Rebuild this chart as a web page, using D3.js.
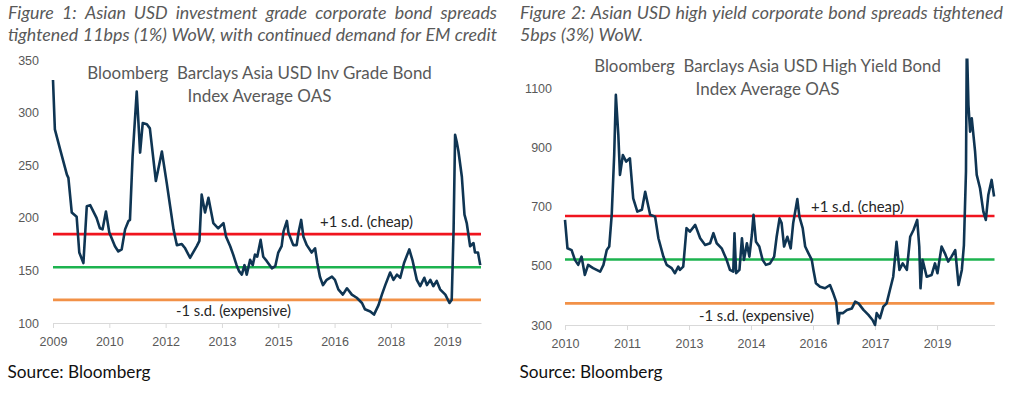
<!DOCTYPE html>
<html>
<head>
<meta charset="utf-8">
<script src="https://cdn.jsdelivr.net/npm/d3@7"></script>
<style>
  body { margin: 0; background: #fff; }
  svg { display: block; font-family: Lato, "Open Sans", sans-serif; }
  text { white-space: pre; }
</style>
</head>
<body>
<script>
// ---- chart 1: Asia USD investment grade OAS (bp)
var igDates = [2009.45, 2009.50, 2009.64, 2009.82, 2009.86, 2009.95, 2010.08, 2010.15, 2010.26, 2010.35,
  2010.44, 2010.61, 2010.70, 2010.77, 2010.86, 2010.95, 2011.10, 2011.19, 2011.28, 2011.37,
  2011.46, 2011.50, 2011.57, 2011.68, 2011.77, 2011.84, 2011.95, 2012.03, 2012.19, 2012.35,
  2012.48, 2012.57, 2012.66, 2012.75, 2012.88, 2012.97, 2013.10, 2013.28, 2013.35, 2013.41,
  2013.50, 2013.59, 2013.72, 2013.85, 2013.99, 2014.06, 2014.17, 2014.25, 2014.34, 2014.41,
  2014.48, 2014.55, 2014.61, 2014.70, 2014.77, 2014.83, 2014.89, 2014.98, 2015.05, 2015.14,
  2015.28, 2015.37, 2015.45, 2015.54, 2015.59, 2015.68, 2015.72, 2015.85, 2015.94, 2015.99,
  2016.06, 2016.12, 2016.21, 2016.34, 2016.43, 2016.49, 2016.56, 2016.64, 2016.74, 2016.88,
  2016.96, 2017.05, 2017.17, 2017.28, 2017.41, 2017.54, 2017.68, 2017.76, 2017.90, 2018.00,
  2018.12, 2018.21, 2018.30, 2018.43, 2018.52, 2018.61, 2018.70, 2018.80, 2018.94, 2019.03,
  2019.14, 2019.23, 2019.34, 2019.41, 2019.50, 2019.58, 2019.67, 2019.76, 2019.90, 2020.01,
  2020.07, 2020.12, 2020.16, 2020.21, 2020.25, 2020.34, 2020.41, 2020.47, 2020.56, 2020.65,
  2020.69, 2020.77, 2020.83];
var igSpread = [331, 284, 265, 241, 238, 205, 201, 167, 157, 211,
  212, 200, 190, 189, 206, 186, 173, 168, 170, 189,
  197, 198, 258, 320, 262, 290, 289, 285, 235, 263,
  233, 211, 189, 174, 175, 171, 162, 173, 178, 222,
  205, 219, 195, 190, 195, 182, 173, 165, 155, 149,
  146, 155, 146, 160, 155, 165, 163, 179, 163, 159,
  152, 154, 167, 173, 187, 197, 186, 174, 174, 186,
  198, 182, 174, 167, 171, 157, 144, 136, 141, 144,
  141, 132, 127, 133, 127, 124, 119, 113, 111, 108,
  117, 127, 136, 148, 141, 146, 143, 157, 170, 159,
  141, 135, 143, 136, 141, 135, 140, 132, 127, 119,
  122, 189, 279, 271, 263, 239, 203, 195, 173, 176,
  167, 167, 155];
var igBands = [184.5, 153, 122];          // +1 s.d., mean, -1 s.d.
var igYTicks = [100, 150, 200, 250, 300, 350];
var igTickYears = [2009.45, 2010.95, 2012.45, 2013.95, 2015.45, 2016.95, 2018.45, 2019.95];
var igTickLabels = ["2009", "2010", "2012", "2013", "2015", "2016", "2018", "2019"];

// ---- chart 2: Asia USD high yield OAS (bp)
var hyDates = [2010.45, 2010.51, 2010.61, 2010.69, 2010.77, 2010.85, 2010.93, 2011.01, 2011.13, 2011.30,
  2011.38, 2011.46, 2011.52, 2011.58, 2011.64, 2011.68, 2011.74, 2011.78, 2011.85, 2011.93,
  2012.02, 2012.10, 2012.20, 2012.31, 2012.39, 2012.51, 2012.63, 2012.71, 2012.83, 2012.91,
  2013.03, 2013.11, 2013.19, 2013.23, 2013.31, 2013.39, 2013.47, 2013.60, 2013.72, 2013.84,
  2013.96, 2014.04, 2014.12, 2014.24, 2014.36, 2014.44, 2014.52, 2014.55, 2014.59, 2014.67,
  2014.73, 2014.78, 2014.85, 2014.91, 2014.97, 2015.01, 2015.07, 2015.15, 2015.23, 2015.31,
  2015.41, 2015.51, 2015.57, 2015.64, 2015.69, 2015.75, 2015.83, 2015.91, 2015.97, 2016.04,
  2016.07, 2016.12, 2016.20, 2016.26, 2016.34, 2016.42, 2016.46, 2016.52, 2016.62, 2016.74,
  2016.86, 2016.94, 2017.01, 2017.06, 2017.09, 2017.17, 2017.27, 2017.39, 2017.47, 2017.55,
  2017.67, 2017.79, 2017.89, 2017.95, 2017.99, 2018.07, 2018.15, 2018.23, 2018.31, 2018.39,
  2018.47, 2018.54, 2018.62, 2018.72, 2018.80, 2018.88, 2018.97, 2019.02, 2019.05, 2019.10,
  2019.20, 2019.32, 2019.40, 2019.46, 2019.56, 2019.64, 2019.72, 2019.80, 2019.89, 2019.97,
  2020.05, 2020.10, 2020.15, 2020.17, 2020.21, 2020.25, 2020.29, 2020.37, 2020.41, 2020.49,
  2020.57, 2020.63, 2020.69, 2020.77, 2020.83];
var hySpread = [655, 559, 553, 520, 503, 531, 469, 503, 492, 480,
  503, 553, 565, 672, 874, 1077, 942, 807, 874, 852,
  863, 728, 683, 689, 750, 672, 666, 593, 531, 503,
  492, 475, 497, 486, 497, 627, 615, 638, 593, 570,
  576, 610, 576, 559, 520, 486, 480, 610, 475, 486,
  593, 520, 576, 531, 604, 672, 581, 565, 520, 503,
  508, 531, 598, 660, 644, 565, 598, 559, 644, 700,
  725, 666, 627, 565, 542, 520, 486, 441, 429, 424,
  435, 407, 379, 305, 340, 340, 351, 356, 379, 373,
  351, 334, 317, 300, 340, 323, 362, 373, 418, 463,
  581, 486, 508, 486, 598, 621, 655, 565, 424, 520,
  463, 469, 508, 475, 565, 542, 514, 531, 553, 435,
  486, 570, 818, 1260, 1043, 953, 998, 886, 807, 762,
  683, 655, 739, 790, 734];
var hyBands = [668, 521, 373];
var hyYTicks = [300, 500, 700, 900, 1100];
var hyTickYears = [2010.45, 2011.95, 2013.45, 2014.95, 2016.45, 2017.95, 2019.45];
var hyTickLabels = ["2010", "2011", "2013", "2014", "2016", "2017", "2019"];

var bandColors = ["#f0141e", "#1db34f", "#f29147"];
var grey = "#595959";

var svg = d3.select("body").append("svg")
    .attr("width", 1014)
    .attr("height", 397);

// shrink/grow a text node so it spans the given width
function fitWidth(sel, target) {
    var w = sel.node().getComputedTextLength();
    var fs = parseFloat(sel.attr("font-size"));
    sel.attr("font-size", fs * target / w);
    return fs * target / w;
}

// lay out words from x0 to x1 (justified) or with plain spaces
function wordLine(str, x0, x1, y, fs, justify) {
    var t = svg.append("text")
        .attr("y", y)
        .attr("font-size", fs)
        .attr("font-style", "italic")
        .attr("fill", grey);
    var words = str.split(" ");
    var spans = words.map(function(w) { return t.append("tspan").text(w); });
    var widths = spans.map(function(s) { return s.node().getComputedTextLength(); });
    var gap = justify ? (x1 - x0 - d3.sum(widths)) / (words.length - 1) : fs * 0.26;
    var x = x0;
    spans.forEach(function(s, i) {
        s.attr("x", x);
        x += widths[i] + gap;
    });
}

function drawChart(c) {
    var x = d3.scaleLinear().domain(c.xDomain).range(c.xRange);
    var y = d3.scaleLinear().domain(c.yDomain).range(c.yRange);
    var g = svg.append("g");

    //x axis: light grey base line with small ticks
    var xAxis = g.append("g")
        .attr("transform", "translate(0," + c.yRange[0] + ")")
        .call(d3.axisBottom(x)
            .tickValues(c.tickYears)
            .tickFormat(function(d, i) { return c.tickLabels[i]; })
            .tickSize(5)
            .tickSizeOuter(0)
            .tickPadding(9));
    xAxis.selectAll("path, line").attr("stroke", "#d9d9d9");
    xAxis.selectAll("text").attr("fill", grey).attr("font-size", 12.5).attr("font-family", null);

    //y axis labels only
    var yAxis = g.append("g")
        .attr("transform", "translate(" + c.xRange[0] + ",0)")
        .call(d3.axisLeft(y).tickValues(c.yTicks).tickFormat(d3.format("d"))
            .tickSize(0).tickPadding(c.yPad));
    yAxis.select(".domain").remove();
    yAxis.selectAll("text").attr("fill", grey).attr("font-size", 12.5).attr("font-family", null);

    //title
    c.title.forEach(function(s, i) {
        var t = g.append("text")
            .attr("x", c.titleX)
            .attr("y", c.titleY[i])
            .attr("text-anchor", "middle")
            .attr("font-size", 17)
            .attr("fill", grey)
            .text(s);
        fitWidth(t, c.titleW[i]);
    });

    //standard deviation bands
    g.selectAll(".band")
        .data(c.bands)
        .enter()
        .append("line")
        .attr("class", "band")
        .attr("x1", c.xRange[0])
        .attr("x2", c.xRange[1])
        .attr("y1", function(d) { return y(d); })
        .attr("y2", function(d) { return y(d); })
        .attr("stroke", function(d, i) { return bandColors[i]; })
        .attr("stroke-width", 2.6);

    //series, clipped to the plot area
    var clipId = "clip" + c.id;
    svg.append("clipPath").attr("id", clipId)
        .append("rect")
        .attr("x", c.xRange[0] - 3)
        .attr("y", c.yRange[1])
        .attr("width", c.xRange[1] - c.xRange[0] + 6)
        .attr("height", c.yRange[0] - c.yRange[1] + 4);

    var pts = c.dates.map(function(d, i) { return [d, c.values[i]]; });
    var line = d3.line()
        .x(function(d) { return x(d[0]); })
        .y(function(d) { return y(d[1]); });
    g.append("path")
        .datum(pts)
        .attr("clip-path", "url(#" + clipId + ")")
        .attr("fill", "none")
        .attr("stroke", "#0f3553")
        .attr("stroke-width", 2.6)
        .attr("stroke-linejoin", "round")
        .attr("d", line);

    //band notes
    c.notes.forEach(function(n) {
        var t = g.append("text")
            .attr("x", n.x)
            .attr("y", n.y)
            .attr("font-size", 13)
            .attr("fill", "#262626")
            .text(n.text);
        fitWidth(t, n.w);
    });

    //source line
    var src = g.append("text")
        .attr("x", c.srcX)
        .attr("y", 378)
        .attr("font-size", 16)
        .attr("fill", "#111")
        .text("Source: Bloomberg");
    fitWidth(src, 143);
}

drawChart({
    id: 1, dates: igDates, values: igSpread, bands: igBands,
    xDomain: [2009.45, 2020.85], xRange: [53, 481],
    yDomain: [100, 350], yRange: [323, 60], yTicks: igYTicks, yPad: 14,
    tickYears: igTickYears, tickLabels: igTickLabels,
    title: ["Bloomberg  Barclays Asia USD Inv Grade Bond", "Index Average OAS"],
    titleX: 259.5, titleY: [79, 102], titleW: [345, 144],
    notes: [{ text: "+1 s.d. (cheap)", x: 320, y: 227, w: 93 },
            { text: "-1 s.d. (expensive)", x: 176, y: 316, w: 115 }],
    srcX: 7.5
});

drawChart({
    id: 2, dates: hyDates, values: hySpread, bands: hyBands,
    xDomain: [2010.45, 2020.84], xRange: [565, 994.5],
    yDomain: [300, 1200], yRange: [325, 58.5], yTicks: hyYTicks, yPad: 13,
    tickYears: hyTickYears, tickLabels: hyTickLabels,
    title: ["Bloomberg  Barclays Asia USD High Yield Bond", "Index Average OAS"],
    titleX: 767.5, titleY: [72, 95], titleW: [347, 144],
    notes: [{ text: "+1 s.d. (cheap)", x: 811, y: 212, w: 93 },
            { text: "-1 s.d. (expensive)", x: 699, y: 321, w: 115 }],
    srcX: 519.5
});

//figure captions above each chart
var probe = svg.append("text")
    .attr("font-size", 16)
    .attr("font-style", "italic")
    .text("tightened 11bps (1%) WoW, with continued demand for EM credit");
var capSize = fitWidth(probe, 486);
probe.remove();

wordLine("Figure 1: Asian USD investment grade corporate bond spreads", 8, 497, 19, capSize, true);
wordLine("tightened 11bps (1%) WoW, with continued demand for EM credit", 8, 497, 41, capSize, true);
wordLine("Figure 2: Asian USD high yield corporate bond spreads tightened", 520, 1003, 19, capSize, true);
wordLine("5bps (3%) WoW.", 520, 1003, 41, capSize, false);
</script>
</body>
</html>
